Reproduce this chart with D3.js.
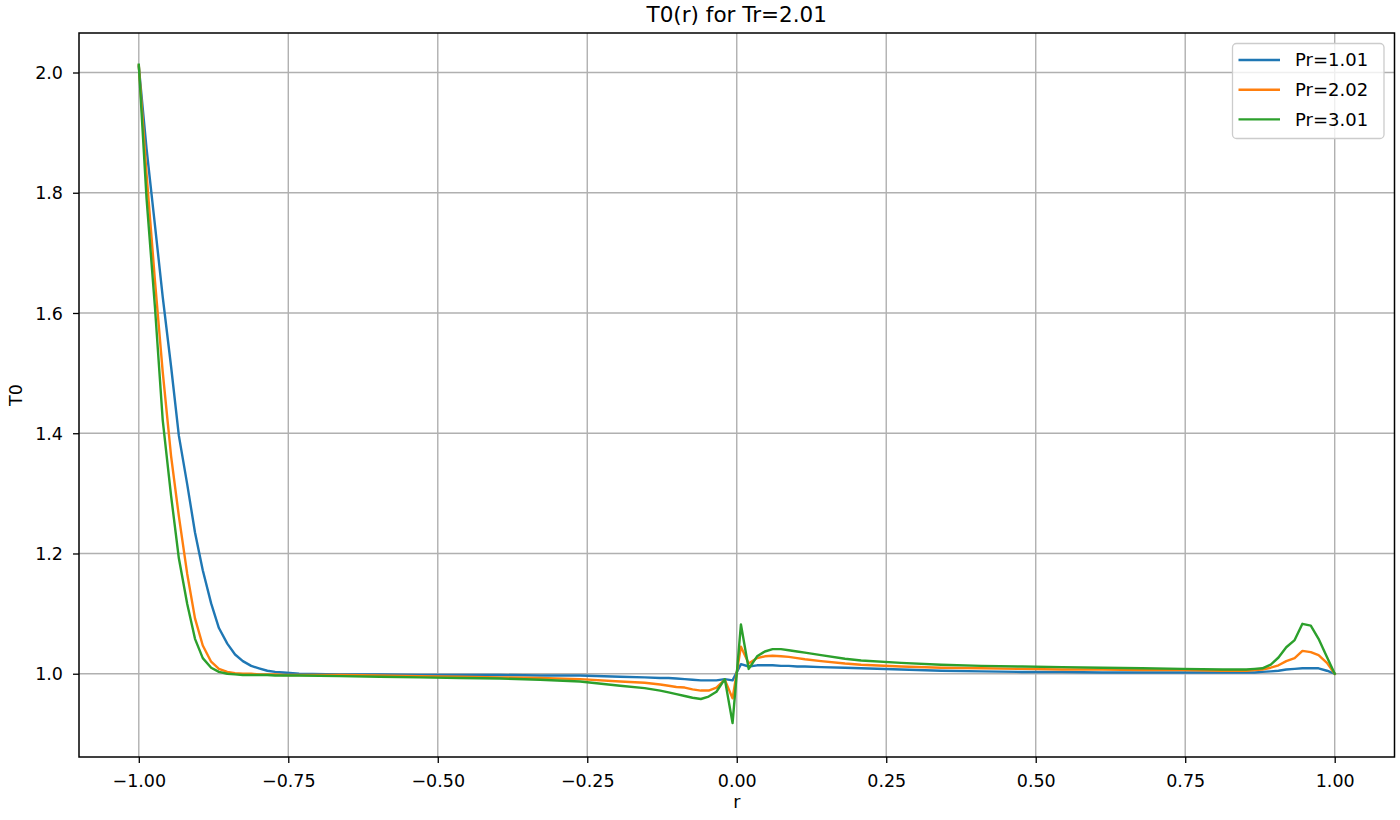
<!DOCTYPE html>
<html>
<head>
<meta charset="utf-8">
<script src="https://cdn.jsdelivr.net/npm/d3@7"></script>
<style>
  body { margin: 0; background: #fff; }
  svg { display: block; font-family: "DejaVu Sans", sans-serif; }
</style>
</head>
<body>
<svg id="chart" width="1400" height="820"></svg>
<script>
// sample positions along r
var rValues = [
  -1.000, -0.987, -0.973, -0.960, -0.946, -0.933, -0.919, -0.906, -0.893, -0.879,
  -0.866, -0.852, -0.839, -0.826, -0.812, -0.799, -0.785, -0.772, -0.758, -0.732,
  -0.664, -0.597, -0.530, -0.463, -0.396, -0.329, -0.262, -0.195, -0.154, -0.128,
  -0.114, -0.101, -0.087, -0.074, -0.060, -0.047, -0.034, -0.020, -0.007, 0.007,
  0.020, 0.034, 0.047, 0.060, 0.074, 0.087, 0.101, 0.114, 0.141, 0.181,
  0.208, 0.275, 0.342, 0.409, 0.477, 0.544, 0.611, 0.678, 0.745, 0.812,
  0.839, 0.852, 0.866, 0.879, 0.893, 0.906, 0.919, 0.933, 0.946, 0.960,
  0.973, 0.987, 1.000
]

var pr101 = [
  2.010, 1.873, 1.746, 1.627, 1.511, 1.396, 1.315, 1.235, 1.172, 1.117,
  1.076, 1.050, 1.032, 1.021, 1.013, 1.009, 1.005, 1.003, 1.002, 1.000,
  0.999, 0.999, 0.998, 0.998, 0.998, 0.997, 0.997, 0.995, 0.994, 0.993,
  0.993, 0.992, 0.991, 0.990, 0.989, 0.989, 0.989, 0.991, 0.989, 1.016,
  1.012, 1.014, 1.014, 1.014, 1.013, 1.013, 1.012, 1.012, 1.011, 1.010,
  1.009, 1.007, 1.005, 1.004, 1.003, 1.003, 1.002, 1.002, 1.002, 1.002,
  1.002, 1.002, 1.002, 1.003, 1.004, 1.005, 1.007, 1.008, 1.009, 1.009,
  1.009, 1.005, 1.000
]

var pr202 = [
  2.012, 1.830, 1.654, 1.502, 1.362, 1.262, 1.166, 1.092, 1.047, 1.020,
  1.008, 1.003, 1.001, 1.000, 1.000, 0.999, 0.999, 0.999, 0.998, 0.998,
  0.998, 0.997, 0.996, 0.995, 0.994, 0.993, 0.991, 0.987, 0.985, 0.982,
  0.980, 0.978, 0.977, 0.974, 0.972, 0.972, 0.977, 0.990, 0.959, 1.045,
  1.017, 1.026, 1.029, 1.030, 1.029, 1.028, 1.026, 1.024, 1.021, 1.017,
  1.015, 1.012, 1.010, 1.009, 1.008, 1.007, 1.007, 1.006, 1.006, 1.005,
  1.005, 1.005, 1.006, 1.007, 1.010, 1.014, 1.021, 1.026, 1.038, 1.036,
  1.031, 1.018, 1.000
]

var pr301 = [
  2.013, 1.790, 1.610, 1.422, 1.296, 1.192, 1.116, 1.058, 1.026, 1.010,
  1.003, 1.000, 0.999, 0.998, 0.998, 0.998, 0.998, 0.997, 0.997, 0.997,
  0.996, 0.995, 0.994, 0.993, 0.992, 0.990, 0.987, 0.980, 0.976, 0.972,
  0.969, 0.966, 0.963, 0.960, 0.958, 0.962, 0.970, 0.991, 0.918, 1.082,
  1.008, 1.029, 1.037, 1.041, 1.041, 1.039, 1.037, 1.035, 1.031, 1.025,
  1.022, 1.018, 1.015, 1.013, 1.012, 1.011, 1.010, 1.009, 1.008, 1.007,
  1.007, 1.007, 1.008, 1.009, 1.015, 1.027, 1.044, 1.056, 1.083, 1.080,
  1.058, 1.028, 1.000
]

var seriesNames = ["Pr=1.01", "Pr=2.02", "Pr=3.01"]
var seriesColors = ["#1f77b4", "#ff7f0e", "#2ca02c"]
var xTicks = [-1.00, -0.75, -0.50, -0.25, 0.00, 0.25, 0.50, 0.75, 1.00]
var yTicks = [1.0, 1.2, 1.4, 1.6, 1.8, 2.0]

var allSeries = [pr101, pr202, pr301]

var dims = {
  width: 1400,
  height: 820,
  left: 79,
  right: 1394.5,
  top: 33,
  bottom: 757
}

var svg = d3.select("#chart")

var xScale = d3.scaleLinear()
  .domain([-1.1, 1.1])
  .range([dims.left, dims.right])

var yScale = d3.scaleLinear()
  .domain([0.8615, 2.0657])
  .range([dims.bottom, dims.top])

// grid
svg.append("g")
  .selectAll("line")
  .data(xTicks)
  .enter()
  .append("line")
  .attr("x1", d => xScale(d)).attr("x2", d => xScale(d))
  .attr("y1", dims.top).attr("y2", dims.bottom)
  .attr("stroke", "#b0b0b0")
  .attr("stroke-width", 1.4)

svg.append("g")
  .selectAll("line")
  .data(yTicks)
  .enter()
  .append("line")
  .attr("x1", dims.left).attr("x2", dims.right)
  .attr("y1", d => yScale(d)).attr("y2", d => yScale(d))
  .attr("stroke", "#b0b0b0")
  .attr("stroke-width", 1.4)

// lines
var line = d3.line()
  .x((d, i) => xScale(rValues[i]))
  .y(d => yScale(d))

svg.append("g")
  .selectAll("path")
  .data(allSeries)
  .enter()
  .append("path")
  .attr("d", d => line(d))
  .attr("fill", "none")
  .attr("stroke", (d, i) => seriesColors[i])
  .attr("stroke-width", 2.4)
  .attr("stroke-linejoin", "round")
  .attr("stroke-linecap", "square")

// axes
var xAxis = d3.axisBottom(xScale)
  .tickValues(xTicks)
  .tickFormat(d3.format(".2f"))
  .tickSize(6)
  .tickSizeOuter(0)

var yAxis = d3.axisLeft(yScale)
  .tickValues(yTicks)
  .tickFormat(d3.format(".1f"))
  .tickSize(6)
  .tickSizeOuter(0)

var gx = svg.append("g")
  .attr("transform", "translate(0," + dims.bottom + ")")
  .call(xAxis)
gx.select(".domain").remove()
gx.selectAll("line").attr("stroke", "#000").attr("stroke-width", 1.3)
gx.selectAll("text")
  .attr("font-family", "DejaVu Sans")
  .attr("font-size", 17.5)
  .attr("fill", "#000")
  .attr("dy", "0")
  .attr("y", 30)

var gy = svg.append("g")
  .attr("transform", "translate(" + dims.left + ",0)")
  .call(yAxis)
gy.select(".domain").remove()
gy.selectAll("line").attr("stroke", "#000").attr("stroke-width", 1.3)
gy.selectAll("text")
  .attr("font-family", "DejaVu Sans")
  .attr("font-size", 17.5)
  .attr("fill", "#000")
  .attr("x", -16)
  .attr("dy", "0.35em")

// frame
svg.append("rect")
  .attr("x", dims.left)
  .attr("y", dims.top)
  .attr("width", dims.right - dims.left)
  .attr("height", dims.bottom - dims.top)
  .attr("fill", "none")
  .attr("stroke", "#000")
  .attr("stroke-width", 1.5)

// title and labels
svg.append("text")
  .attr("x", (dims.left + dims.right) / 2)
  .attr("y", 22)
  .attr("text-anchor", "middle")
  .attr("font-size", 21.5)
  .attr("fill", "#000")
  .text("T0(r) for Tr=2.01")

svg.append("text")
  .attr("x", (dims.left + dims.right) / 2)
  .attr("y", 808)
  .attr("text-anchor", "middle")
  .attr("font-size", 17.5)
  .attr("fill", "#000")
  .text("r")

svg.append("text")
  .attr("transform", "translate(22," + (dims.top + dims.bottom) / 2 + ") rotate(-90)")
  .attr("text-anchor", "middle")
  .attr("font-size", 17.5)
  .attr("fill", "#000")
  .text("T0")

// legend
var legend = svg.append("g")
  .attr("transform", "translate(1232.5,43.5)")

legend.append("rect")
  .attr("width", 151.5)
  .attr("height", 95)
  .attr("rx", 4)
  .attr("fill", "#fff")
  .attr("fill-opacity", 0.8)
  .attr("stroke", "#cccccc")
  .attr("stroke-width", 1.3)

var items = legend.selectAll("g.item")
  .data(seriesNames)
  .enter()
  .append("g")
  .attr("class", "item")
  .attr("transform", (d, i) => "translate(0," + (16.5 + i * 29.7) + ")")

items.append("line")
  .attr("x1", 6).attr("x2", 47.5)
  .attr("y1", 0).attr("y2", 0)
  .attr("stroke", (d, i) => seriesColors[i])
  .attr("stroke-width", 2.4)

items.append("text")
  .attr("x", 62.5)
  .attr("y", 0)
  .attr("dy", "0.35em")
  .attr("font-size", 18)
  .attr("fill", "#000")
  .text(d => d)
</script>
</body>
</html>
